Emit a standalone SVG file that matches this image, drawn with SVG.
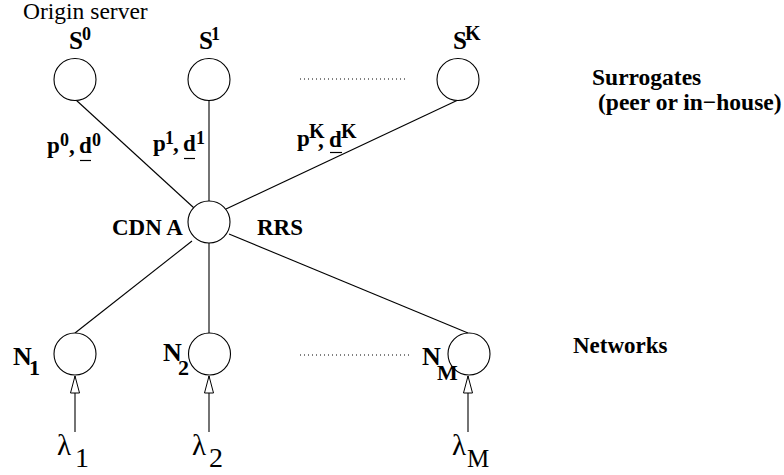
<svg xmlns="http://www.w3.org/2000/svg" width="784" height="475" viewBox="0 0 784 475">
<defs>
<style>
.node{fill:#fff;stroke:#000;stroke-width:1.1}
.edge{fill:none;stroke:#000;stroke-width:1.1}
.dots{fill:none;stroke:#000;stroke-width:1;stroke-dasharray:1 3}
text{font-family:'Liberation Serif','Times New Roman',serif;fill:#000}
.b{font-weight:bold}
.ul{stroke:#000;stroke-width:1.2}
</style>
<marker id="harrow" markerUnits="userSpaceOnUse" markerWidth="20" markerHeight="12" refX="18" refY="5" orient="auto">
<path d="M1,0.5 L18,5 L1,9.5 Z" fill="#fff" stroke="#000" stroke-width="1"/>
</marker>
</defs>
<rect width="784" height="475" fill="#fff"/>

<g id="connectors">
<line class="edge" x1="76" y1="100" x2="194" y2="208"/>
<line class="edge" x1="209" y1="100" x2="209" y2="201"/>
<line class="edge" x1="458" y1="100" x2="226" y2="209"/>
<line class="edge" x1="75" y1="333" x2="192" y2="241"/>
<line class="edge" x1="209" y1="243" x2="209" y2="333"/>
<line class="edge" x1="468" y1="333" x2="229" y2="234"/>
<line class="dots" x1="300" y1="79" x2="407" y2="79"/>
<line class="dots" x1="300" y1="355" x2="410" y2="355"/>
<line class="edge" x1="75" y1="432" x2="75" y2="376" marker-end="url(#harrow)"/>
<line class="edge" x1="209" y1="432" x2="209" y2="376" marker-end="url(#harrow)"/>
<line class="edge" x1="468" y1="432" x2="468" y2="376" marker-end="url(#harrow)"/>
</g>

<g id="s0">
<circle class="node" cx="75" cy="79.5" r="21"/>
<text class="b" x="69" y="49" font-size="25">S</text>
<text class="b" x="82" y="40" font-size="18">0</text>
</g>
<g id="s1">
<circle class="node" cx="209" cy="79.5" r="21"/>
<text class="b" x="199" y="49" font-size="25">S</text>
<text class="b" x="211" y="40" font-size="18">1</text>
</g>
<g id="sk">
<circle class="node" cx="458" cy="79.5" r="21"/>
<text class="b" x="453" y="49" font-size="25">S</text>
<text class="b" x="465" y="40" font-size="20">K</text>
</g>
<g id="cdn">
<circle class="node" cx="209" cy="222" r="21"/>
<text class="b" x="112" y="235" font-size="23">CDN A</text>
<text class="b" x="257" y="235" font-size="23">RRS</text>
</g>
<g id="n1">
<circle class="node" cx="75" cy="354" r="21"/>
<text class="b" x="13" y="365" font-size="26">N</text>
<text class="b" x="29" y="375" font-size="22">1</text>
</g>
<g id="n2">
<circle class="node" cx="209.5" cy="354" r="21"/>
<text class="b" x="163" y="361" font-size="26">N</text>
<text class="b" x="178" y="375" font-size="22">2</text>
</g>
<g id="nm">
<circle class="node" cx="469" cy="354" r="21"/>
<text class="b" x="422" y="365" font-size="26">N</text>
<text class="b" x="437" y="380" font-size="22">M</text>
</g>

<g id="labels">
<text x="23" y="19" font-size="23.5">Origin server</text>
<text class="b" x="592" y="85" font-size="23.5">Surrogates</text>
<text class="b" x="598" y="110" font-size="23.5">(peer or in−house)</text>
<text class="b" x="573" y="353" font-size="23">Networks</text>

<text class="b" x="47" y="153" font-size="23">p</text>
<text class="b" x="60" y="146" font-size="18">0</text>
<text class="b" x="69" y="153" font-size="23">,</text>
<text class="b" x="79" y="153" font-size="23">d</text>
<text class="b" x="92" y="146" font-size="18">0</text>
<line class="ul" x1="80" y1="160.5" x2="91" y2="160.5"/>

<text class="b" x="153" y="151" font-size="23">p</text>
<text class="b" x="165" y="144" font-size="18">1</text>
<text class="b" x="173" y="151" font-size="23">,</text>
<text class="b" x="183" y="151" font-size="23">d</text>
<text class="b" x="196" y="144" font-size="18">1</text>
<line class="ul" x1="184" y1="158.5" x2="195" y2="158.5"/>

<text class="b" x="297" y="146" font-size="23">p</text>
<text class="b" x="309" y="138" font-size="20">K</text>
<text class="b" x="318" y="147" font-size="23">,</text>
<text class="b" x="329" y="147" font-size="23">d</text>
<text class="b" x="341" y="138" font-size="20">K</text>
<line class="ul" x1="330" y1="152.5" x2="342" y2="152.5"/>

<text x="57" y="455" font-size="29">λ</text>
<text x="75" y="467" font-size="28">1</text>
<text x="192" y="455" font-size="29">λ</text>
<text x="209" y="467" font-size="28">2</text>
<text x="452" y="455" font-size="29">λ</text>
<text x="467" y="467" font-size="25">M</text>
</g>
</svg>
